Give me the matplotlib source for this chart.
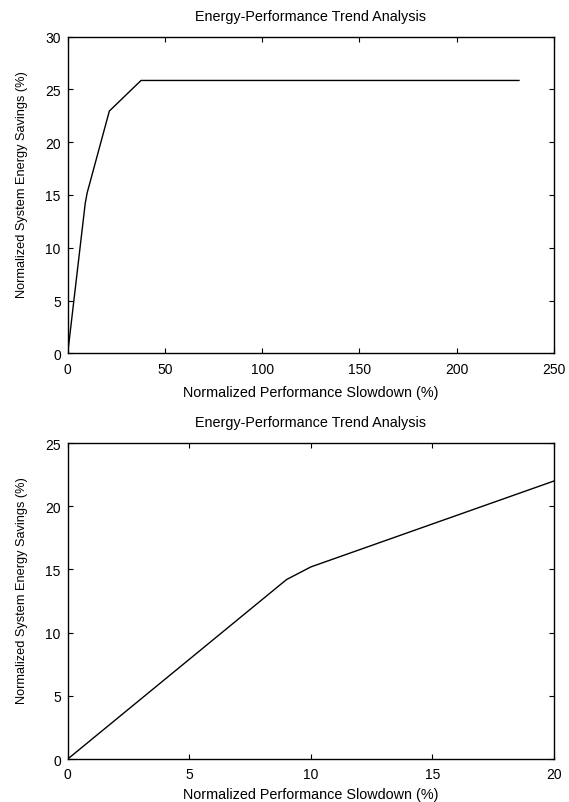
import matplotlib
matplotlib.use('Agg')
import matplotlib.pyplot as plt

# slowdown (%) vs energy savings (%)
slowdown = [0, 9, 10, 21.4, 37.7, 232]
savings = [0, 14.2, 15.2, 22.95, 25.85, 25.85]

title = "Energy-Performance Trend Analysis"
xlabel = "Normalized Performance Slowdown (%)"
ylabel = "Normalized System Energy Savings (%)"

plt.rcParams['font.family'] = ['Liberation Sans', 'DejaVu Sans']
plt.rcParams['font.size'] = 10


def style_axes(ax, xpad):
    ax.tick_params(direction='in', top=True, right=True, length=3.3, width=0.8,
                   labelsize=10)
    ax.tick_params(axis='x', pad=6)
    ax.tick_params(axis='y', pad=5)
    for s in ax.spines.values():
        s.set_linewidth(1.0)
    ax.set_title(title, fontsize=10.4, pad=12)
    ax.set_xlabel(xlabel, fontsize=10.4, labelpad=xpad)
    ax.set_ylabel(ylabel, fontsize=9.2)
    ax.yaxis.set_label_coords(-0.0816, 0.536)


fig = plt.figure(figsize=(5.69, 8.03), dpi=100)

ax1 = fig.add_axes([0.119, 0.5588, 0.8546, 0.3943])
ax1.plot(slowdown, savings, color='black', lw=1.0)
ax1.set_xlim(0, 250)
ax1.set_ylim(0, 30)
ax1.set_xticks([0, 50, 100, 150, 200, 250])
ax1.set_yticks([0, 5, 10, 15, 20, 25, 30])
style_axes(ax1, 6.6)

ax2 = fig.add_axes([0.119, 0.0535, 0.8546, 0.3935])
ax2.plot(slowdown, savings, color='black', lw=1.0)
ax2.set_xlim(0, 20)
ax2.set_ylim(0, 25)
ax2.set_xticks([0, 5, 10, 15, 20])
ax2.set_yticks([0, 5, 10, 15, 20, 25])
style_axes(ax2, 4.2)

fig.savefig('out.png', dpi=100, facecolor='white')
plt.close(fig)
